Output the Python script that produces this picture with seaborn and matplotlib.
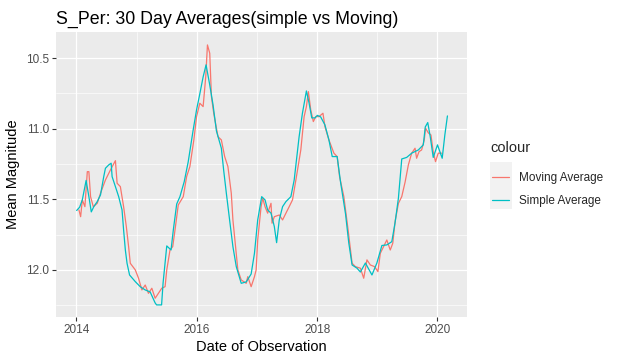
import matplotlib
matplotlib.use("Agg")
from matplotlib import pyplot as plt
from matplotlib.patches import Rectangle
from matplotlib.ticker import FixedLocator
import numpy as np
import pandas as pd
import seaborn as sns

# 30-day block averages (decimal year, mean magnitude)
simple_t = [2014.005, 2014.054, 2014.099, 2014.162, 2014.208, 2014.248, 2014.290, 2014.347,
            2014.401, 2014.455, 2014.483, 2014.538, 2014.578, 2014.594, 2014.649, 2014.703,
            2014.759, 2014.785, 2014.814, 2014.842, 2014.884, 2014.979, 2015.061, 2015.144,
            2015.226, 2015.309, 2015.333, 2015.416, 2015.441, 2015.502, 2015.573, 2015.611,
            2015.667, 2015.721, 2015.792, 2015.858, 2015.941, 2015.997, 2016.051, 2016.106,
            2016.155, 2016.216, 2016.271, 2016.327, 2016.409, 2016.447, 2016.492, 2016.546,
            2016.601, 2016.657, 2016.739, 2016.822, 2016.904, 2016.959, 2017.013, 2017.079,
            2017.135, 2017.178, 2017.234, 2017.289, 2017.327, 2017.371, 2017.426, 2017.482,
            2017.564, 2017.619, 2017.701, 2017.756, 2017.822, 2017.866, 2017.911, 2017.965,
            2018.003, 2018.059, 2018.130, 2018.196, 2018.251, 2018.333, 2018.389, 2018.472,
            2018.526, 2018.581, 2018.663, 2018.719, 2018.802, 2018.911, 2018.993, 2019.076,
            2019.158, 2019.241, 2019.297, 2019.351, 2019.406, 2019.488, 2019.571, 2019.682,
            2019.764, 2019.797, 2019.838, 2019.880, 2019.929, 2020.000, 2020.078, 2020.122,
            2020.165]
simple_mag = [11.579, 11.556, 11.504, 11.366, 11.481, 11.589, 11.552, 11.516,
              11.469, 11.339, 11.280, 11.256, 11.244, 11.339, 11.410, 11.481,
              11.575, 11.717, 11.859, 11.953, 12.036, 12.083, 12.119, 12.142,
              12.156, 12.234, 12.248, 12.248, 12.092, 11.830, 11.859, 11.717,
              11.533, 11.481, 11.375, 11.235, 11.008, 10.866, 10.753, 10.633,
              10.547, 10.689, 10.831, 11.015, 11.138, 11.292, 11.457, 11.646,
              11.835, 11.977, 12.095, 12.085, 12.029, 11.882, 11.646, 11.481,
              11.504, 11.575, 11.598, 11.693, 11.807, 11.646, 11.552, 11.516,
              11.481, 11.363, 11.056, 10.890, 10.732, 10.817, 10.923, 10.923,
              10.905, 10.916, 10.973, 11.079, 11.197, 11.197, 11.377, 11.603,
              11.809, 11.965, 11.988, 12.015, 11.951, 12.036, 11.951, 11.827,
              11.823, 11.800, 11.660, 11.490, 11.214, 11.203, 11.173, 11.150,
              11.114, 10.987, 10.956, 11.058, 11.203, 11.114, 11.209, 11.044,
              10.909]

# rolling 30-day averages
moving_t = [2014.043, 2014.071, 2014.099, 2014.142, 2014.182, 2014.208, 2014.236, 2014.281,
            2014.347, 2014.401, 2014.483, 2014.566, 2014.649, 2014.677, 2014.731, 2014.785,
            2014.830, 2014.868, 2014.896, 2014.979, 2015.033, 2015.089, 2015.144, 2015.198,
            2015.254, 2015.309, 2015.363, 2015.419, 2015.474, 2015.502, 2015.556, 2015.601,
            2015.639, 2015.693, 2015.776, 2015.832, 2015.886, 2015.952, 2015.997, 2016.051,
            2016.106, 2016.150, 2016.178, 2016.216, 2016.244, 2016.282, 2016.353, 2016.409,
            2016.464, 2016.518, 2016.574, 2016.601, 2016.645, 2016.683, 2016.739, 2016.822,
            2016.848, 2016.904, 2016.959, 2016.987, 2017.013, 2017.069, 2017.096, 2017.135,
            2017.178, 2017.234, 2017.251, 2017.289, 2017.371, 2017.426, 2017.482, 2017.536,
            2017.591, 2017.647, 2017.729, 2017.784, 2017.822, 2017.855, 2017.894, 2017.937,
            2017.977, 2018.031, 2018.097, 2018.130, 2018.196, 2018.279, 2018.333, 2018.373,
            2018.444, 2018.515, 2018.581, 2018.637, 2018.719, 2018.774, 2018.828, 2018.884,
            2018.955, 2019.010, 2019.050, 2019.104, 2019.158, 2019.215, 2019.257, 2019.297,
            2019.351, 2019.406, 2019.462, 2019.516, 2019.571, 2019.627, 2019.653, 2019.693,
            2019.736, 2019.780, 2019.802, 2019.847, 2019.891, 2019.929, 2019.967, 2020.012,
            2020.069]
moving_mag = [11.575, 11.623, 11.504, 11.552, 11.304, 11.304, 11.481, 11.552,
              11.528, 11.457, 11.363, 11.292, 11.226, 11.386, 11.410, 11.552,
              11.693, 11.835, 11.953, 12.000, 12.059, 12.142, 12.107, 12.166,
              12.130, 12.201, 12.166, 12.130, 12.119, 12.000, 11.859, 11.835,
              11.717, 11.540, 11.481, 11.339, 11.268, 11.079, 10.914, 10.819,
              10.843, 10.630, 10.406, 10.465, 10.772, 10.890, 11.056, 11.079,
              11.197, 11.268, 11.457, 11.646, 11.835, 12.000, 12.071, 12.095,
              12.048, 12.119, 12.048, 12.000, 11.788, 11.552, 11.492, 11.552,
              11.598, 11.528, 11.669, 11.623, 11.611, 11.646, 11.598, 11.552,
              11.504, 11.363, 11.150, 10.914, 10.843, 10.737, 10.866, 10.949,
              10.914, 10.914, 10.890, 10.985, 11.079, 11.173, 11.197, 11.339,
              11.481, 11.717, 11.953, 11.977, 11.988, 12.059, 11.929, 11.965,
              11.977, 12.012, 11.882, 11.835, 11.788, 11.859, 11.811, 11.653,
              11.528, 11.481, 11.377, 11.256, 11.173, 11.138, 11.209, 11.162,
              11.150, 11.079, 10.996, 11.029, 11.044, 11.164, 11.233, 11.173,
              11.173]

year_ticks = [2014, 2016, 2018, 2020]
mag_ticks = [10.5, 11.0, 11.5, 12.0]

df = pd.concat([
    pd.DataFrame({'date': moving_t, 'mag': moving_mag, 'colour': 'Moving Average'}),
    pd.DataFrame({'date': simple_t, 'mag': simple_mag, 'colour': 'Simple Average'}),
], ignore_index=True)

sns.set_theme(style='darkgrid', rc={
    'axes.facecolor': '#EBEBEB',
    'grid.color': 'white',
    'axes.edgecolor': 'none',
})
plt.rcParams['font.family'] = ['Liberation Sans', 'DejaVu Sans']

fig = plt.figure(figsize=(6.21, 3.63), dpi=100)
ax = fig.add_axes([0.090, 0.127, 0.662, 0.785])

sns.lineplot(data=df, x='date', y='mag', hue='colour', estimator=None,
             palette=['#F8766D', '#00BFC4'], linewidth=0.9, ax=ax)

ax.set_xlim(2013.66, 2020.49)
ax.set_ylim(12.333, 10.314)
ax.xaxis.set_major_locator(FixedLocator(year_ticks))
ax.set_xticklabels([str(t) for t in year_ticks])
ax.yaxis.set_major_locator(FixedLocator(mag_ticks))
ax.set_yticklabels([f'{t:.1f}' for t in mag_ticks])
ax.xaxis.set_minor_locator(FixedLocator([2015, 2017, 2019]))
ax.yaxis.set_minor_locator(FixedLocator([10.75, 11.25, 11.75, 12.25]))
ax.grid(which='major', color='white', linewidth=0.9)
ax.grid(which='minor', color='white', linewidth=0.45)
ax.tick_params(which='major', length=3, width=0.8, color='#333333',
               labelcolor='#4D4D4D', labelsize=8.5, pad=2, bottom=True, left=True)
ax.tick_params(which='minor', length=0)

ax.set_title('S_Per: 30 Day Averages(simple vs Moving)', loc='left',
             fontsize=12.8, pad=6, color='black')
ax.set_xlabel('Date of Observation', fontsize=10.5, color='black', labelpad=3)
ax.set_ylabel('Mean Magnitude', fontsize=10.5, color='black', labelpad=4)

handles, labels = ax.get_legend_handles_labels()
ax.legend_.remove()
fig.patches.append(Rectangle((490 / 621, 1 - 209 / 363), 22 / 621, 47 / 363,
                             transform=fig.transFigure, facecolor='#F2F2F2',
                             edgecolor='none', zorder=0))
fig.text(490 / 621, 1 - 148 / 363, 'colour', fontsize=10.5, va='center', ha='left')
leg = fig.legend(handles, labels, loc='upper left',
                 bbox_to_anchor=(481 / 621, 1 - 161.5 / 363), frameon=False,
                 fontsize=8.5, handlelength=1.5,
                 handletextpad=0.8, labelspacing=0.95, alignment='left')

fig.savefig('out.png', dpi=100)
